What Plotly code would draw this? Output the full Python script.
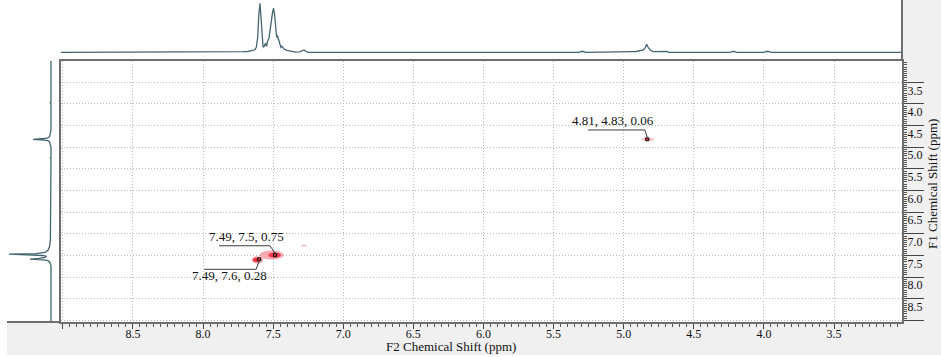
import plotly.graph_objects as go

W, H = 941, 357

# ---------------- data ----------------
# F2 (horizontal) 1D projection: chemical shift (ppm) / relative intensity
top_ppm = [9.02, 7.95, 7.93, 7.91, 7.74, 7.72, 7.68, 7.65, 7.63, 7.62, 7.61, 7.603, 7.594,
           7.587, 7.58, 7.572, 7.563, 7.555, 7.547, 7.54, 7.53, 7.52, 7.51, 7.503, 7.497,
           7.49, 7.483, 7.475, 7.468, 7.46, 7.452, 7.445, 7.438, 7.43, 7.42, 7.40, 7.385,
           7.37, 7.34, 7.31, 7.29, 7.28, 7.265, 7.25, 5.32, 5.295, 5.27, 4.99, 4.97, 4.955,
           4.94, 4.91, 4.88, 4.86, 4.845, 4.836, 4.825, 4.81, 4.79, 4.72, 4.70, 4.69, 4.68,
           4.24, 4.225, 4.21, 4.195, 4.00, 3.985, 3.965, 3.95, 3.02]
top_int = [0, 0, 0.7, 0, 0, 0.6, 0.8, 1.8, 2.5, 5, 15, 36, 49,
           36, 14, 5, 6, 9, 6, 11, 14, 22, 34, 41, 44,
           38, 24, 15, 16, 12, 7, 5, 6, 4, 3, 2, 1.5,
           0.8, 0.2, 0.4, 1.8, 2.4, 0.8, 0, 0, 1, 0, 0, 0.6, 0.2,
           0.7, 0.8, 1.5, 2.5, 5, 8, 5, 2, 0.7, 0.5, 0.3, 0.8, 0,
           0, 0.8, 0.8, 0, 0, 0.8, 0.8, 0, 0]

# F1 (vertical) 1D projection
left_ppm = [3.01, 3.95, 3.97, 3.99, 4.60, 4.70, 4.76, 4.79, 4.805, 4.816, 4.827, 4.84,
            4.87, 4.93, 5.00, 5.23, 5.25, 5.27, 7.00, 7.15, 7.30, 7.38, 7.43, 7.455,
            7.47, 7.485, 7.50, 7.52, 7.545, 7.565, 7.585, 7.60, 7.62, 7.66, 7.74, 9.04]
left_int = [0, 0, 0.8, 0, 0, 0.6, 1.5, 4, 10, 18, 10, 4,
            1.5, 0.6, 0, 0, 0.6, 0, 0, 0.6, 1.5, 3, 6, 15,
            42, 20, 8, 5, 6, 12, 21, 8, 3, 1, 0, 0]

# 2D cross peaks (F2 = x, F1 = y) and their labels
peak_f2 = [7.487, 7.600, 4.832]
peak_f1 = [7.490, 7.588, 4.816]
peak_labels = ["7.49, 7.5, 0.75", "7.49, 7.6, 0.28", "4.81, 4.83, 0.06"]

# contour blobs: centre (F2, F1), extent (ppm), colour
blob_f2 = [7.511, 7.490, 7.612, 7.618, 7.280, 4.828, 4.832]
blob_f1 = [7.489, 7.490, 7.600, 7.600, 7.270, 4.818, 4.818]
blob_w = [0.17, 0.09, 0.08, 0.05, 0.04, 0.09, 0.035]
blob_h = [0.21, 0.12, 0.17, 0.10, 0.05, 0.08, 0.05]
blob_col = ['#f7aab2', '#eb3d4c', '#f5a0a9', '#e83444', '#f8c0c6', '#f8bcc2', '#ef7e8a']

x_tickvals = [9.0, 8.5, 8.0, 7.5, 7.0, 6.5, 6.0, 5.5, 5.0, 4.5, 4.0, 3.5]
x_ticktext = ["", "8.5", "8.0", "7.5", "7.0", "6.5", "6.0", "5.5", "5.0", "4.5", "4.0", "3.5"]
y_tickvals = [3.5, 4.0, 4.5, 5.0, 5.5, 6.0, 6.5, 7.0, 7.5, 8.0, 8.5, 9.0]
y_ticktext = ["3.5", "4.0", "4.5", "5.0", "5.5", "6.0", "6.5", "7.0", "7.5", "8.0", "8.5", ""]

# ---------------- layout geometry ----------------
X_RANGE = [9.013, 3.015]
Y_RANGE = [9.036, 3.008]
PX_L, PX_R, PX_T, PX_B = 61, 902, 61, 322
x_dom = [PX_L / W, PX_R / W]
y_dom = [1 - PX_B / H, 1 - PX_T / H]
ppm_per_px_x = (X_RANGE[0] - X_RANGE[1]) / (PX_R - PX_L)
ppm_per_px_y = (Y_RANGE[0] - Y_RANGE[1]) / (PX_B - PX_T)

# label / leader offsets in pixels relative to the peak marker
lead_start = [(-56, -9.3), (-55, 10), (-59, -9.3)]
lead_elbow = [(-5, -9.3), (-3, 10), (-2.3, -9.3)]
lead_end = [(0, -2), (0, 2), (0, -2)]
text_off = [(-28.3, -18.3), (-29.7, 15.7), (-34.6, -18.3)]

serif = "Liberation Serif"
proj_col = '#45656f'
frame_col = '#6e6e6e'
grid_col = '#b8b8b8'

fig = go.Figure()

# top projection
fig.add_trace(go.Scatter(x=top_ppm, y=top_int, mode='lines', xaxis='x2', yaxis='y2',
                         line=dict(color=proj_col, width=1.3), hoverinfo='skip'))
# left projection
fig.add_trace(go.Scatter(x=left_int, y=left_ppm, mode='lines', xaxis='x3', yaxis='y3',
                         line=dict(color=proj_col, width=1.3), hoverinfo='skip'))

# blobs as ellipses
shapes = []
for cx, cy, w, h, c in zip(blob_f2, blob_f1, blob_w, blob_h, blob_col):
    shapes.append(dict(type='circle', xref='x', yref='y', x0=cx + w / 2, x1=cx - w / 2,
                       y0=cy - h / 2, y1=cy + h / 2, fillcolor=c, line=dict(width=0),
                       layer='between'))

# leader lines
for i in range(len(peak_f2)):
    pts = [lead_start[i], lead_elbow[i], lead_end[i]]
    lx = [peak_f2[i] - dx * ppm_per_px_x for dx, dy in pts]
    ly = [peak_f1[i] + dy * ppm_per_px_y for dx, dy in pts]
    fig.add_trace(go.Scatter(x=lx, y=ly, mode='lines', xaxis='x', yaxis='y',
                             line=dict(color='#3a3a3a', width=1), hoverinfo='skip'))

# peak markers
fig.add_trace(go.Scatter(x=peak_f2, y=peak_f1, mode='markers', xaxis='x', yaxis='y',
                         marker=dict(symbol='square', size=3, color='#e03040',
                                     line=dict(color='#111111', width=1)),
                         hoverinfo='skip'))

annotations = []
for i in range(len(peak_f2)):
    annotations.append(dict(x=peak_f2[i], y=peak_f1[i], xref='x', yref='y',
                            text=peak_labels[i], showarrow=False,
                            xanchor='center', yanchor='middle',
                            xshift=text_off[i][0], yshift=-text_off[i][1],
                            font=dict(family=serif, size=13, color='#111111')))

# axis titles
annotations.append(dict(x=450.5 / W, y=1 - 346 / H, xref='paper', yref='paper',
                        xanchor='center', yanchor='middle',
                        text='F2 Chemical Shift (ppm)', showarrow=False,
                        font=dict(family=serif, size=13, color='#111111')))
annotations.append(dict(x=933 / W, y=1 - 184 / H, xref='paper', yref='paper',
                        xanchor='center', yanchor='middle',
                        text='F1 Chemical Shift (ppm)', showarrow=False, textangle=-90,
                        font=dict(family=serif, size=13, color='#111111')))

# grey frame strips
shapes.append(dict(type='rect', xref='paper', yref='paper', x0=7 / W, x1=1,
                   y0=1 - 355 / H, y1=1 - PX_B / H, fillcolor='#f0f0f0',
                   line=dict(width=0), layer='below'))
shapes.append(dict(type='rect', xref='paper', yref='paper', x0=PX_R / W, x1=1,
                   y0=1 - 355 / H, y1=1, fillcolor='#f0f0f0',
                   line=dict(width=0), layer='below'))
shapes.append(dict(type='line', xref='paper', yref='paper', x0=PX_R / W, x1=PX_R / W,
                   y0=1 - PX_T / H, y1=1, line=dict(color=frame_col, width=2)))
shapes.append(dict(type='line', xref='paper', yref='paper', x0=7 / W, x1=PX_L / W,
                   y0=1 - PX_B / H, y1=1 - PX_B / H, line=dict(color=frame_col, width=2)))

fig.update_layout(
    width=W, height=H, margin=dict(l=0, r=0, t=0, b=0, autoexpand=False),
    paper_bgcolor='white', plot_bgcolor='white', showlegend=False,
    font=dict(family=serif, size=12, color='#111111'),
    xaxis=dict(domain=x_dom, range=X_RANGE, tickvals=x_tickvals, ticktext=x_ticktext,
               automargin=False,
               ticks='outside', ticklen=5, tickwidth=1, tickcolor='#444444',
               showline=True, linecolor=frame_col, linewidth=2, mirror=True,
               showgrid=True, gridcolor=grid_col, griddash='1px,2px', gridwidth=1,
               zeroline=False, tickfont=dict(family=serif, size=12, color='#111111'),
               ticklabelstandoff=-5,
               minor=dict(dtick=0.05, ticks='outside', ticklen=3, tickcolor='#555555',
                          showgrid=False)),
    yaxis=dict(domain=y_dom, range=Y_RANGE, side='right', anchor='x',
               tickvals=y_tickvals, ticktext=y_ticktext, automargin=False,
               ticks='outside', ticklen=20, tickwidth=1, tickcolor='#444444',
               showline=True, linecolor=frame_col, linewidth=2, mirror=True,
               showgrid=True, gridcolor=grid_col, griddash='1px,2px', gridwidth=1,
               zeroline=False, tickfont=dict(family=serif, size=12, color='#111111'),
               ticklabelstandoff=-19, ticklabelshift=-8,
               minor=dict(dtick=0.05, ticks='outside', ticklen=3, tickcolor='#555555',
                          showgrid=False)),
    xaxis2=dict(domain=x_dom, range=X_RANGE, anchor='y2', visible=False),
    yaxis2=dict(domain=[1 - 60 / H, 1], range=[-7.7, 52.3], anchor='x2', visible=False),
    xaxis3=dict(domain=[0, 58 / W], range=[51, -7], anchor='y3', visible=False),
    yaxis3=dict(domain=y_dom, range=Y_RANGE, anchor='x3', visible=False),
    shapes=shapes, annotations=annotations,
)

fig.write_html("out.html", config={'displayModeBar': False},
               post_script="document.body.style.margin='0';document.body.style.overflow='hidden';")
